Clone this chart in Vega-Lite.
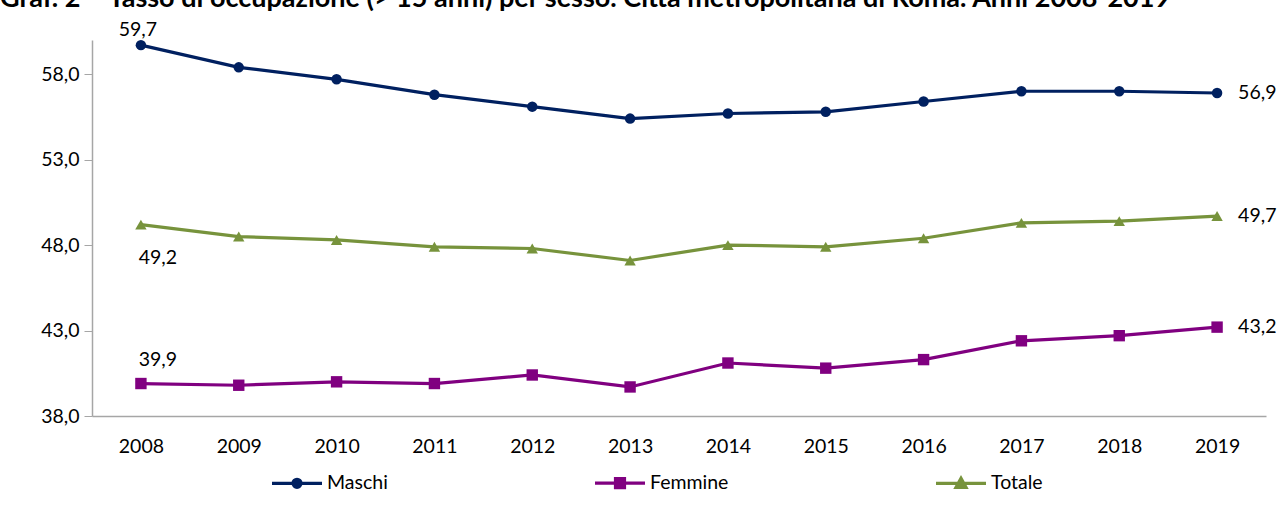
{
  "$schema": "https://vega.github.io/schema/vega-lite/v6.json",
  "width": 1174,
  "height": 376,
  "autosize": {"type": "none"},
  "padding": {"left": 92, "top": 40, "right": 18, "bottom": 116},
  "background": "white",
  "title": {
    "text": "Graf. 2 – Tasso di occupazione (> 15 anni) per sesso. Città metropolitana di Roma. Anni 2008-2019",
    "anchor": "start",
    "frame": "group",
    "dx": -92,
    "offset": -4,
    "dy": 10,
    "fontSize": 27,
    "fontWeight": "bold",
    "font": "Lato",
    "color": "#000000",
    "baseline": "alphabetic"
  },
  "config": {
    "locale": {"number": {"decimal": ",", "thousands": ".", "grouping": [3], "currency": ["€", ""]}},
    "font": "Lato",
    "view": {"stroke": null},
    "axis": {"labelFont": "Lato", "labelColor": "#000000", "labelFontSize": 19.5, "grid": false, "domainColor": "#a6a6a6", "domainWidth": 1.5, "tickColor": "#a6a6a6", "title": null}
  },
  "data": {"values": [
    {"year": "2008", "series": "Maschi", "value": 59.7},
    {"year": "2009", "series": "Maschi", "value": 58.4},
    {"year": "2010", "series": "Maschi", "value": 57.7},
    {"year": "2011", "series": "Maschi", "value": 56.8},
    {"year": "2012", "series": "Maschi", "value": 56.1},
    {"year": "2013", "series": "Maschi", "value": 55.4},
    {"year": "2014", "series": "Maschi", "value": 55.7},
    {"year": "2015", "series": "Maschi", "value": 55.8},
    {"year": "2016", "series": "Maschi", "value": 56.4},
    {"year": "2017", "series": "Maschi", "value": 57.0},
    {"year": "2018", "series": "Maschi", "value": 57.0},
    {"year": "2019", "series": "Maschi", "value": 56.9},
    {"year": "2008", "series": "Femmine", "value": 39.9},
    {"year": "2009", "series": "Femmine", "value": 39.8},
    {"year": "2010", "series": "Femmine", "value": 40.0},
    {"year": "2011", "series": "Femmine", "value": 39.9},
    {"year": "2012", "series": "Femmine", "value": 40.4},
    {"year": "2013", "series": "Femmine", "value": 39.7},
    {"year": "2014", "series": "Femmine", "value": 41.1},
    {"year": "2015", "series": "Femmine", "value": 40.8},
    {"year": "2016", "series": "Femmine", "value": 41.3},
    {"year": "2017", "series": "Femmine", "value": 42.4},
    {"year": "2018", "series": "Femmine", "value": 42.7},
    {"year": "2019", "series": "Femmine", "value": 43.2},
    {"year": "2008", "series": "Totale", "value": 49.2},
    {"year": "2009", "series": "Totale", "value": 48.5},
    {"year": "2010", "series": "Totale", "value": 48.3},
    {"year": "2011", "series": "Totale", "value": 47.9},
    {"year": "2012", "series": "Totale", "value": 47.8},
    {"year": "2013", "series": "Totale", "value": 47.1},
    {"year": "2014", "series": "Totale", "value": 48.0},
    {"year": "2015", "series": "Totale", "value": 47.9},
    {"year": "2016", "series": "Totale", "value": 48.4},
    {"year": "2017", "series": "Totale", "value": 49.3},
    {"year": "2018", "series": "Totale", "value": 49.4},
    {"year": "2019", "series": "Totale", "value": 49.7}
  ]},
  "encoding": {
    "x": {"field": "year", "type": "ordinal", "scale": {"type": "point", "padding": 0.5},
          "axis": {"labelAngle": 0, "ticks": false, "labelPadding": 21}},
    "y": {"field": "value", "type": "quantitative", "scale": {"domain": [38, 60], "zero": false, "nice": false},
          "axis": {"values": [38, 43, 48, 53, 58], "format": ".1f", "tickSize": 8, "labelPadding": 5}},
    "color": {"field": "series", "type": "nominal",
      "scale": {"domain": ["Maschi", "Femmine", "Totale"], "range": ["#002060", "#800080", "#77933c"]},
      "legend": {
        "title": null, "orient": "none", "legendX": 178, "legendY": 416, "direction": "horizontal", "columns": 3,
        "columnPadding": 200, "padding": 0, "symbolSize": 2500, "symbolStrokeWidth": 3.2, "labelOffset": 3,
        "labelFontSize": 19.5, "labelFont": "Lato", "labelColor": "#000000",
        "encode": {"symbols": {"update": {
          "shape": {"signal": "datum.value === 'Maschi' ? 'M-1,0H1M-0.16,0A0.16,0.16,0,1,1,0.16,0A0.16,0.16,0,1,1,-0.16,0Z' : datum.value === 'Femmine' ? 'M-1,0H1M-0.18,-0.18H0.18V0.18H-0.18Z' : 'M-1,0H1M0,-0.2L0.2,0.16H-0.2Z'"},
          "fill": {"signal": "scale('color', datum.value)"},
          "stroke": {"signal": "scale('color', datum.value)"},
          "opacity": {"value": 1}
        }}}
      }
    }
  },
  "layer": [
    {
      "mark": {"type": "line", "strokeWidth": 3.2}
    },
    {
      "transform": [{"filter": "datum.series === 'Maschi'"}],
      "mark": {"type": "point", "shape": "circle", "filled": true, "opacity": 1, "size": 110}
    },
    {
      "transform": [{"filter": "datum.series === 'Femmine'"}],
      "mark": {"type": "point", "shape": "square", "filled": true, "opacity": 1, "size": 130}
    },
    {
      "transform": [{"filter": "datum.series === 'Totale'"}],
      "mark": {"type": "point", "shape": "triangle-up", "filled": true, "opacity": 1, "size": 130}
    },
    {
      "transform": [{"filter": "datum.year === '2019'"}],
      "mark": {"type": "text", "align": "left", "dx": 21, "fontSize": 19.5, "color": "#000000"},
      "encoding": {"text": {"field": "value", "type": "quantitative", "format": ".1f"}, "color": {"value": "#000000"}}
    },
    {
      "transform": [{"filter": "datum.year === '2008' && datum.series === 'Maschi'"}],
      "mark": {"type": "text", "align": "center", "dy": -15, "dx": -3, "fontSize": 19.5, "color": "#000000"},
      "encoding": {"text": {"field": "value", "type": "quantitative", "format": ".1f"}, "color": {"value": "#000000"}}
    },
    {
      "transform": [{"filter": "datum.year === '2008' && datum.series === 'Totale'"}],
      "mark": {"type": "text", "align": "center", "dy": 33, "dx": 17, "fontSize": 19.5, "color": "#000000"},
      "encoding": {"text": {"field": "value", "type": "quantitative", "format": ".1f"}, "color": {"value": "#000000"}}
    },
    {
      "transform": [{"filter": "datum.year === '2008' && datum.series === 'Femmine'"}],
      "mark": {"type": "text", "align": "center", "dy": -24, "dx": 17, "fontSize": 19.5, "color": "#000000"},
      "encoding": {"text": {"field": "value", "type": "quantitative", "format": ".1f"}, "color": {"value": "#000000"}}
    }
  ]
}
